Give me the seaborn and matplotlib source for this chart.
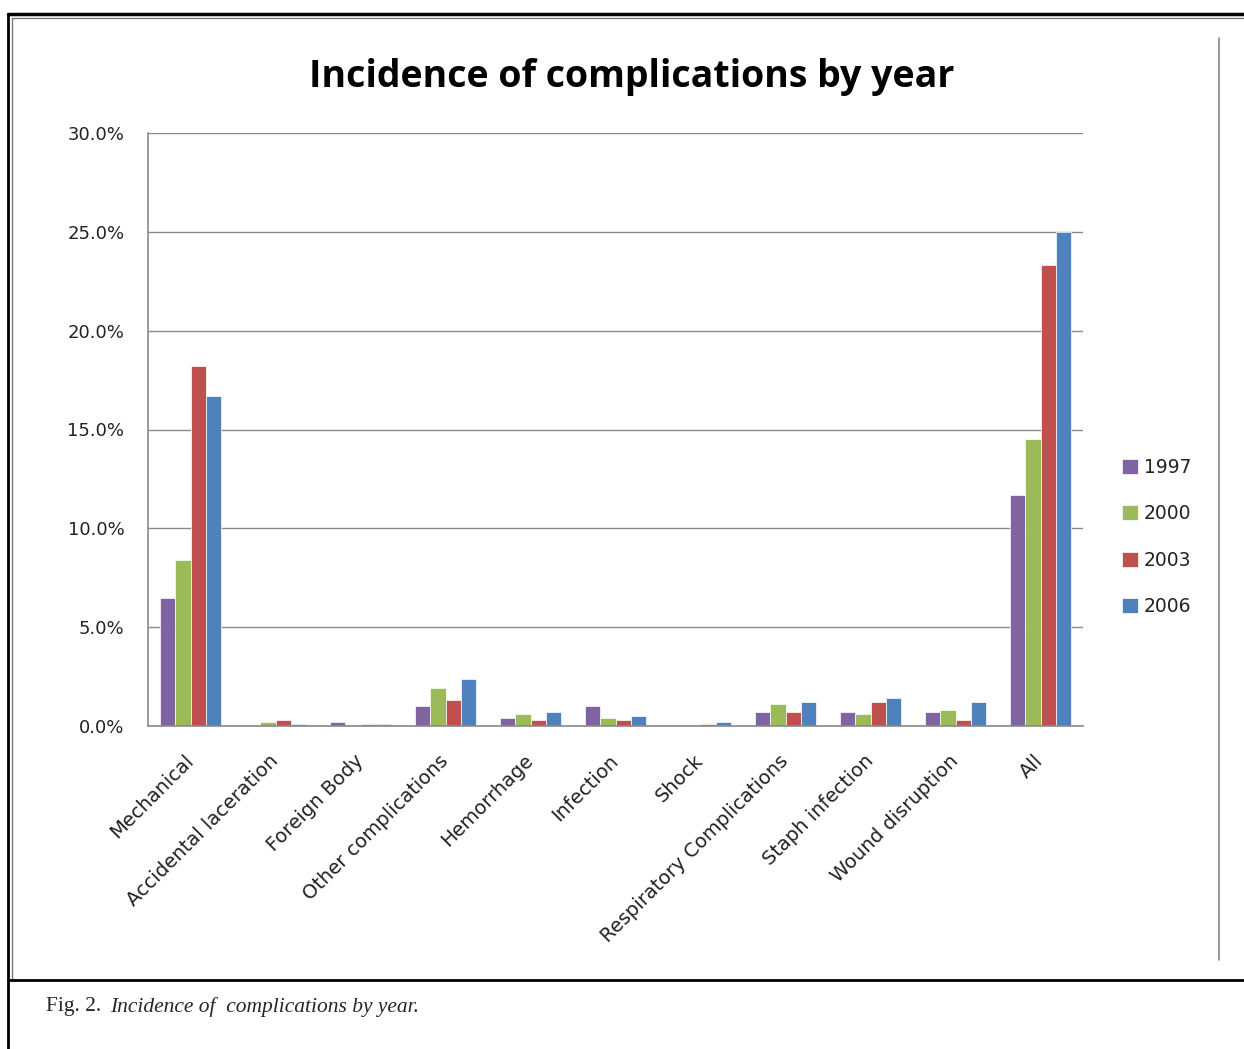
import matplotlib
matplotlib.use("Agg")
import matplotlib.pyplot as plt
from matplotlib.lines import Line2D
import seaborn as sns
import pandas as pd

categories = ["Mechanical", "Accidental laceration", "Foreign Body", "Other complications",
              "Hemorrhage", "Infection", "Shock", "Respiratory Complications",
              "Staph infection", "Wound disruption", "All"]
years = ["1997", "2000", "2003", "2006"]
v1997 = [6.5, 0.0, 0.2, 1.0, 0.4, 1.0, 0.0, 0.7, 0.7, 0.7, 11.7]
v2000 = [8.4, 0.2, 0.0, 1.9, 0.6, 0.4, 0.0, 1.1, 0.6, 0.8, 14.5]
v2003 = [18.2, 0.3, 0.1, 1.3, 0.3, 0.3, 0.1, 0.7, 1.2, 0.3, 23.3]
v2006 = [16.7, 0.1, 0.1, 2.4, 0.7, 0.5, 0.2, 1.2, 1.4, 1.2, 25.0]
yticks = [0, 5, 10, 15, 20, 25, 30]
ytick_labels = ["0.0%", "5.0%", "10.0%", "15.0%", "20.0%", "25.0%", "30.0%"]
colors = ["#8064A2", "#9BBB59", "#C0504D", "#4F81BD"]

rows = []
for yr, vals in zip(years, [v1997, v2000, v2003, v2006]):
    for c, v in zip(categories, vals):
        rows.append({"Complication": c, "Year": yr, "Incidence": v})
df = pd.DataFrame(rows)

sns.set_theme(style="white")
plt.rcParams['font.family'] = ['DejaVu Sans']

W, H = 1244, 1049
fig = plt.figure(figsize=(W / 100, H / 100), dpi=100)
ax = fig.add_axes([148 / W, 1 - 726 / H, (1083 - 148) / W, (726 - 133) / H])

sns.barplot(data=df, x="Complication", y="Incidence", hue="Year", order=categories,
            hue_order=years, palette=colors, saturation=1, width=0.72, edgecolor="white",
            linewidth=0.5, ax=ax, legend=True)

ax.set_ylim(0, 30)
ax.set_xlim(-0.5, len(categories) - 0.5)
ax.set_yticks(yticks)
ax.set_yticklabels(ytick_labels, fontsize=13, color="#222222")
ax.yaxis.grid(True, color="#8a8a8a", linewidth=1.0)
ax.set_axisbelow(True)
ax.set_xlabel("")
ax.set_ylabel("")
ax.tick_params(axis="both", length=0)
ax.tick_params(axis="y", pad=17)
ax.tick_params(axis="x", pad=23)
for lbl in ax.get_xticklabels():
    lbl.set_rotation(45)
    lbl.set_ha("right")
    lbl.set_va("center")
    lbl.set_rotation_mode("anchor")
    lbl.set_fontsize(14)
    lbl.set_color("#222222")
for s in ["top", "right"]:
    ax.spines[s].set_visible(False)
for s in ["left", "bottom"]:
    ax.spines[s].set_color("#8a8a8a")
    ax.spines[s].set_linewidth(1.2)

leg = ax.legend(loc="center left", bbox_to_anchor=(1122 / W, 1 - 537 / H),
                bbox_transform=fig.transFigure, frameon=False, fontsize=13.5,
                handlelength=0.85, handleheight=0.85, handletextpad=0.3,
                labelspacing=1.45, borderpad=0, borderaxespad=0, title=None)
for t in leg.get_texts():
    t.set_color("#222222")

fig.text(632 / W, 1 - 77 / H, "Incidence of complications by year", ha="center",
         va="center", fontsize=27, fontweight="bold", color="black",
         family=["Open Sans", "DejaVu Sans"])

# frame lines
fig.add_artist(Line2D([8 / W, 1], [1 - 14 / H, 1 - 14 / H], color="black", linewidth=2.5))
fig.add_artist(Line2D([12 / W, 1], [1 - 18 / H, 1 - 18 / H], color="#777777", linewidth=1))
fig.add_artist(Line2D([8 / W, 8 / W], [0, 1 - 14 / H], color="black", linewidth=2))
fig.add_artist(Line2D([12 / W, 12 / W], [1 - 980 / H, 1 - 18 / H], color="#777777", linewidth=1))
fig.add_artist(Line2D([8 / W, 1], [1 - 980 / H, 1 - 980 / H], color="black", linewidth=2))
fig.add_artist(Line2D([1219 / W, 1219 / W], [1 - 960 / H, 1 - 38 / H], color="#888888", linewidth=1.2))

fig.text(46 / W, 1 - 1007 / H, "Fig. 2.", ha="left", va="center", fontsize=15.5,
         family=["Liberation Serif", "DejaVu Serif"])
fig.text(110 / W, 1 - 1007 / H, "Incidence of  complications by year.", ha="left", va="center",
         fontsize=15.5, style="italic", family=["Liberation Serif", "DejaVu Serif"])

fig.savefig("out.png", dpi=100)
